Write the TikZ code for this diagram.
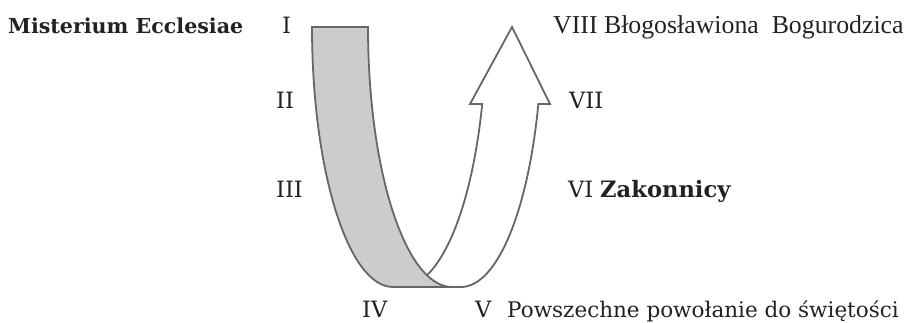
\documentclass[tikz,border=0pt]{standalone}
\usepackage{fontspec}
\setmainfont{DejaVu Serif}
\newfontfamily\timesf{Liberation Serif}
\definecolor{edge}{HTML}{666666}
\definecolor{band}{HTML}{CCCCCC}
\definecolor{ink}{HTML}{222222}
\begin{document}
\begin{tikzpicture}[x=1pt,y=-1pt,
  shapeline/.style={draw=edge,line width=1.8pt,line join=miter},
  lbl/.style={anchor=base west,inner sep=0pt,text=ink,font=\fontsize{22.5}{26}\selectfont},
  lblb/.style={anchor=base west,inner sep=0pt,text=ink,font=\fontsize{#1}{26}\selectfont\bfseries},
  lblt/.style={anchor=base west,inner sep=0pt,text=ink,font=\fontsize{25.8}{30}\selectfont\timesf}]
\useasboundingbox (0,0) rectangle (905,322);
% white arrow (behind)
\path[shapeline,fill=white] (402,287) -- (461,287)
  arc[start angle=90,end angle=17.23,x radius=81,y radius=260]
  -- (550,104) -- (512,27) -- (470,104) -- (482.2,104)
  arc[start angle=17.23,end angle=90,x radius=84,y radius=260] -- cycle;
% gray band (front)
\path[shapeline,fill=band] (312,27) -- (368,27)
  arc[start angle=180,end angle=90,x radius=84,y radius=260]
  -- (393,287)
  arc[start angle=90,end angle=180,x radius=81,y radius=260] -- cycle;
% labels
\node[lblb=20.6] (me) at (8,33) {Misterium Ecclesiae};
\node[lbl] (r1) at (282,33) {I};
\node[lbl] (r2) at (276,108) {II};
\node[lbl] (r3) at (276,197) {III};
\node[lbl] (r4) at (362,317) {IV};
\node[lbl] (r5) at (475,317) {V};
\node[lbl,font=\fontsize{21.5}{26}\selectfont] (pp) at (507,317) {Powszechne powołanie do świętości};
\node[lblt] (r8) at (553,33) {VIII Błogosławiona\ \ Bogurodzica};
\node[lbl] (r7) at (569,108) {VII};
\node[lbl] (r6) at (568,197) {VI};
\node[lblb=22.6] (zk) at (600,197) {Zakonnicy};
\end{tikzpicture}
\end{document}
